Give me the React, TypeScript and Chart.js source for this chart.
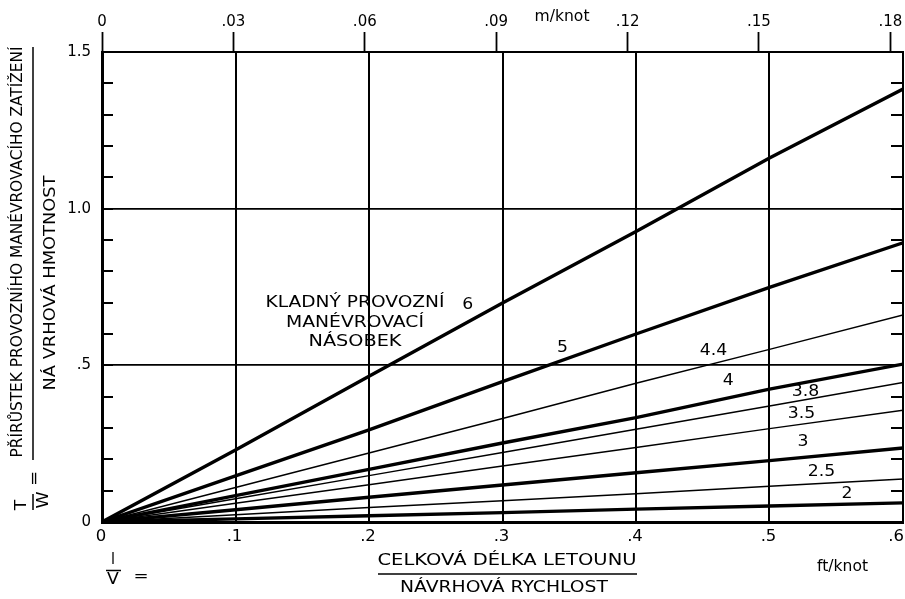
import React, { useEffect, useRef } from 'react';
import { Chart, registerables } from 'chart.js';

Chart.register(...registerables);

// ---------- data ----------
const X_FT = [0, 0.1, 0.2, 0.3, 0.4, 0.5, 0.6];
const LINE_6 = [0, 0.23, 0.465, 0.699, 0.927, 1.162, 1.382];
const LINE_5 = [0, 0.147, 0.294, 0.448, 0.6, 0.749, 0.891];
const LINE_4_4 = [0, 0.11, 0.22, 0.33, 0.443, 0.551, 0.661];
const LINE_4 = [0, 0.084, 0.168, 0.252, 0.333, 0.424, 0.504];
const LINE_3_8 = [0, 0.074, 0.148, 0.222, 0.296, 0.37, 0.445];
const LINE_3_5 = [0, 0.06, 0.119, 0.179, 0.238, 0.298, 0.357];
const LINE_3 = [0, 0.039, 0.079, 0.118, 0.157, 0.196, 0.236];
const LINE_2_5 = [0, 0.023, 0.046, 0.068, 0.09, 0.114, 0.137];
const LINE_2 = [0, 0.01, 0.02, 0.03, 0.041, 0.051, 0.061];

const SERIES_NAMES = ['6', '5', '4.4', '4', '3.8', '3.5', '3', '2.5', '2'];
const SERIES_VALUES = [LINE_6, LINE_5, LINE_4_4, LINE_4, LINE_3_8, LINE_3_5, LINE_3, LINE_2_5, LINE_2];
// where each series label sits (ft/knot, T/W)
const LABEL_AT_FT = [0.274, 0.345, 0.458, 0.469, 0.527, 0.524, 0.525, 0.539, 0.558];
const LABEL_AT_TW = [0.6925, 0.556, 0.544, 0.451, 0.414, 0.345, 0.255, 0.16, 0.088];

const X_TICK_LABELS = ['0', '.1', '.2', '.3', '.4', '.5', '.6'];
const TOP_TICK_LABELS = ['0', '.03', '.06', '.09', '.12', '.15', '.18'];
const Y_TICK_LABELS = ['0', '.5', '1.0', '1.5'];
const Y_MINOR_STEP = 0.1;
const FT_TO_M = 0.3048;

const NOTE_LINES = ['KLADNÝ PROVOZNÍ', 'MANÉVROVACÍ', 'NÁSOBEK'];
const NOTE_AT = { ft: 0.1895, tw: 0.635 };

// ---------- drawing helpers ----------
const FONT = "'DejaVu Sans', 'Liberation Sans', sans-serif";
const THICK = new Set(['6', '5', '4', '3', '2']);

function stretchText(ctx: CanvasRenderingContext2D, text: string, x: number, y: number, width: number, rot = 0) {
  ctx.save();
  ctx.translate(x, y);
  if (rot) ctx.rotate(rot);
  const w = ctx.measureText(text).width;
  ctx.scale(width / w, 1);
  ctx.textAlign = 'center';
  ctx.textBaseline = 'middle';
  ctx.fillText(text, 0, 0);
  ctx.restore();
}

function scaledText(ctx: CanvasRenderingContext2D, text: string, x: number, y: number, sx: number, rot = 0) {
  ctx.save();
  ctx.translate(x, y);
  if (rot) ctx.rotate(rot);
  ctx.scale(sx, 1);
  ctx.textAlign = 'center';
  ctx.textBaseline = 'middle';
  ctx.fillText(text, 0, 0);
  ctx.restore();
}

const decorPlugin = {
  id: 'decor',
  afterDraw(chart: any) {
    const ctx: CanvasRenderingContext2D = chart.ctx;
    const xs = chart.scales.x;
    const ys = chart.scales.y;
    const area = chart.chartArea;
    ctx.save();
    ctx.strokeStyle = '#000';
    ctx.fillStyle = '#000';

    // minor inward ticks on left and right
    ctx.lineWidth = 1.8;
    const n = Math.round((ys.max - ys.min) / Y_MINOR_STEP);
    for (let k = 1; k < n; k++) {
      const py = Math.round(ys.getPixelForValue(ys.min + k * Y_MINOR_STEP));
      ctx.beginPath();
      ctx.moveTo(area.left, py);
      ctx.lineTo(area.left + 11, py);
      ctx.moveTo(area.right - 12, py);
      ctx.lineTo(area.right, py);
      ctx.stroke();
    }

    // bottom tick labels
    ctx.font = `15px ${FONT}`;
    xs.ticks.forEach((t: any, i: number) => {
      const label = X_TICK_LABELS[i];
      if (!label) return;
      let px = xs.getPixelForValue(t.value) - 1;
      const w = ctx.measureText(label).width * 1.1;
      if (px + w / 2 > chart.width - 1) px = chart.width - 1 - w / 2;
      scaledText(ctx, label, px, 537, 1.1);
    });

    // series labels
    ctx.font = `15px ${FONT}`;
    SERIES_NAMES.forEach((name, i) => {
      const px = xs.getPixelForValue(LABEL_AT_FT[i]);
      const py = ys.getPixelForValue(LABEL_AT_TW[i]);
      scaledText(ctx, name, px, py, 1.15);
    });

    // note
    const nx = xs.getPixelForValue(NOTE_AT.ft);
    const ny = ys.getPixelForValue(NOTE_AT.tw);
    const noteW = [179, 138, 93];
    NOTE_LINES.forEach((line, i) => {
      stretchText(ctx, line, nx, ny + (i - 1) * 19.5, noteW[i]);
    });

    // x axis title
    ctx.font = `15px ${FONT}`;
    stretchText(ctx, 'l', 113, 560, 4);
    ctx.lineWidth = 1.5;
    ctx.beginPath();
    ctx.moveTo(106, 570.5);
    ctx.lineTo(121, 570.5);
    ctx.stroke();
    scaledText(ctx, 'V', 113, 580, 1.15);
    scaledText(ctx, '=', 141, 577, 1.2);
    stretchText(ctx, 'CELKOVÁ DÉLKA LETOUNU', 507, 561.5, 259);
    ctx.beginPath();
    ctx.moveTo(378, 574);
    ctx.lineTo(637, 574);
    ctx.stroke();
    stretchText(ctx, 'NÁVRHOVÁ RYCHLOST', 504, 588, 208);
    stretchText(ctx, 'ft/knot', 842.5, 567, 51);
    stretchText(ctx, 'm/knot', 562, 17, 55);

    // y axis title (rotated)
    const R = -Math.PI / 2;
    stretchText(ctx, 'PŘÍRŮSTEK PROVOZNÍHO MANÉVROVACÍHO ZATÍŽENÍ', 18, 252, 411, R);
    ctx.beginPath();
    ctx.moveTo(33, 47);
    ctx.lineTo(33, 460);
    ctx.stroke();
    stretchText(ctx, 'NÁ VRHOVÁ HMOTNOST', 51, 283, 215, R);
    scaledText(ctx, 'T', 22.5, 505, 1.15, R);
    ctx.beginPath();
    ctx.moveTo(33, 494);
    ctx.lineTo(33, 510);
    ctx.stroke();
    scaledText(ctx, 'W', 44, 500, 1.15, R);
    scaledText(ctx, '=', 35, 478.5, 1.2, R);

    ctx.restore();
  },
};

export default function App() {
  const ref = useRef<HTMLCanvasElement | null>(null);

  useEffect(() => {
    if (!ref.current) return;
    const datasets = SERIES_NAMES.map((name, i) => ({
      label: name,
      data: X_FT.map((x, j) => ({ x, y: SERIES_VALUES[i][j] })),
      borderColor: '#000',
      backgroundColor: '#000',
      borderWidth: THICK.has(name) ? 3.4 : 1.5,
      pointRadius: 0,
      tension: 0,
      fill: false,
    }));

    const chart = new Chart(ref.current, {
      type: 'line',
      data: { datasets },
      plugins: [decorPlugin],
      options: {
        animation: false,
        responsive: false,
        layout: { padding: { left: 0, right: 2, top: 0, bottom: 0 } },
        plugins: { legend: { display: false }, tooltip: { enabled: false } },
        scales: {
          x: {
            type: 'linear',
            position: 'bottom',
            min: 0,
            max: 0.6,
            ticks: { stepSize: 0.1, display: false },
            grid: {
              color: '#000',
              lineWidth: 2,
              drawTicks: false,
            },
            border: { color: '#000', width: 3 },
            afterFit: (s: any) => {
              s.height = 77;
              s.paddingLeft = 0;
              s.paddingRight = 0;
            },
          },
          x2: {
            type: 'linear',
            position: 'top',
            min: 0,
            max: 0.6 * FT_TO_M,
            ticks: {
              stepSize: 0.03,
              includeBounds: false,
              color: '#000',
              font: { family: FONT, size: 15 },
              padding: 1,
              maxRotation: 0,
              autoSkip: false,
              callback: (_v: any, i: number) => TOP_TICK_LABELS[i] ?? null,
            },
            grid: {
              drawOnChartArea: false,
              drawTicks: true,
              tickLength: 20,
              tickWidth: 1.8,
              tickColor: '#000',
            },
            border: { color: '#000', width: 2 },
            afterFit: (s: any) => {
              s.height = 52;
              s.paddingLeft = 0;
              s.paddingRight = 0;
            },
          },
          y: {
            type: 'linear',
            min: 0,
            max: 1.5,
            ticks: {
              stepSize: 0.1,
              color: '#000',
              font: { family: FONT, size: 15 },
              padding: 11,
              autoSkip: false,
              callback: (_v: any, i: number) => (i % 5 === 0 ? Y_TICK_LABELS[i / 5] : null),
            },
            grid: {
              color: '#000',
              lineWidth: 1.8,
              drawTicks: false,
            },
            border: { color: '#000', width: 3 },
            afterFit: (s: any) => {
              s.width = 102;
              s.paddingTop = 0;
              s.paddingBottom = 0;
            },
          },
        },
      } as any,
    });
    return () => chart.destroy();
  }, []);

  return (
    <div style={{ position: 'absolute', left: 0, top: 0, width: 905, height: 599, background: '#fff' }}>
      <canvas ref={ref} width={905} height={599} style={{ display: 'block' }} />
    </div>
  );
}
